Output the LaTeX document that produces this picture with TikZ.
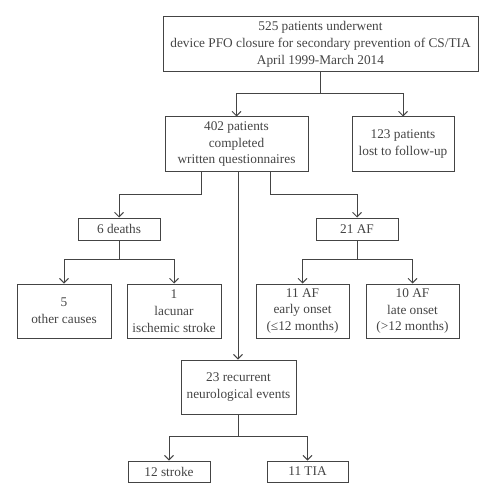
\documentclass[tikz,border=0pt]{standalone}
\usepackage{fontspec}
\setmainfont{Liberation Serif}
\usetikzlibrary{arrows.meta,calc}
\definecolor{ln}{HTML}{444444}
\begin{document}
\begin{tikzpicture}[x=1pt,y=-1pt,
  box/.style={draw=ln,line width=1pt,text=ln,align=center,inner sep=0pt,
    font=\fontsize{13.3}{16.7}\selectfont},
  conn/.style={draw=ln,line width=1pt},
  arr/.style={conn,-{Straight Barb[length=4.5pt,width=9pt,line width=0.9pt]}}]
\useasboundingbox (0,0) rectangle (496,500);
\node[box,minimum width=315pt,minimum height=55pt] (top) at (320.5,44.5)
  {525 patients underwent\\device PFO closure for secondary prevention of CS/TIA\\April 1999-March 2014};
\node[box,minimum width=143pt,minimum height=54pt] (p402) at (236.5,144)
  {402 patients\\completed\\written questionnaires};
\node[box,minimum width=102pt,minimum height=54pt] (lost) at (403,144)
  {123 patients\\lost to follow-up};
\node[box,minimum width=82pt,minimum height=22pt] (deaths) at (119,229) {6 deaths};
\node[box,minimum width=82pt,minimum height=22pt] (af) at (357,229) {21 AF};
\node[box,minimum width=94pt,minimum height=54pt] (other) at (64,311) {5\\other causes};
\node[box,minimum width=94pt,minimum height=54pt] (lac) at (174,311) {1\\lacunar\\ischemic stroke};
\node[box,minimum width=93pt,minimum height=54pt] (early) at (302.5,311) {11 AF\\early onset\\(≤12 months)};
\node[box,minimum width=93pt,minimum height=54pt] (late) at (412.5,311) {10 AF\\late onset\\(>12 months)};
\node[box,minimum width=115pt,minimum height=54pt] (rec) at (238.5,387) {23 recurrent\\neurological events};
\node[box,minimum width=82pt,minimum height=21pt] (stroke) at (169,471.5) {12 stroke};
\node[box,minimum width=81pt,minimum height=21pt] (tia) at (307.5,471.5) {11 TIA};
% top split
\coordinate (j1) at ($(top.south)+(0,21)$);
\draw[conn] (top.south) -- (j1);
\draw[arr] (j1) -| (p402.north);
\draw[arr] (j1) -| (lost.north);
% 402 splits
\coordinate (s1) at ($(p402.south)+(-35.5,0)$);
\coordinate (s2) at ($(p402.south)+(1.5,0)$);
\coordinate (s3) at ($(p402.south)+(33.5,0)$);
\draw[arr] (s1) |- ($(s1)+(-40,23)$) -| (deaths.north);
\draw[arr] (s3) |- ($(s3)+(40,23)$) -| (af.north);
\draw[arr] (s2) -- (s2 |- rec.north);
% deaths split
\coordinate (j2) at ($(deaths.south)+(0,19)$);
\draw[conn] (deaths.south) -- (j2);
\draw[arr] (j2) -| (other.north);
\draw[arr] (j2) -| (lac.north);
% af split
\coordinate (j3) at ($(af.south)+(0,19)$);
\draw[conn] (af.south) -- (j3);
\draw[arr] (j3) -| (early.north);
\draw[arr] (j3) -| (late.north);
% rec split
\coordinate (j4) at ($(rec.south)+(0,22)$);
\draw[conn] (rec.south) -- (j4);
\draw[arr] (j4) -| (stroke.north);
\draw[arr] (j4) -| (tia.north);
\end{tikzpicture}
\end{document}
